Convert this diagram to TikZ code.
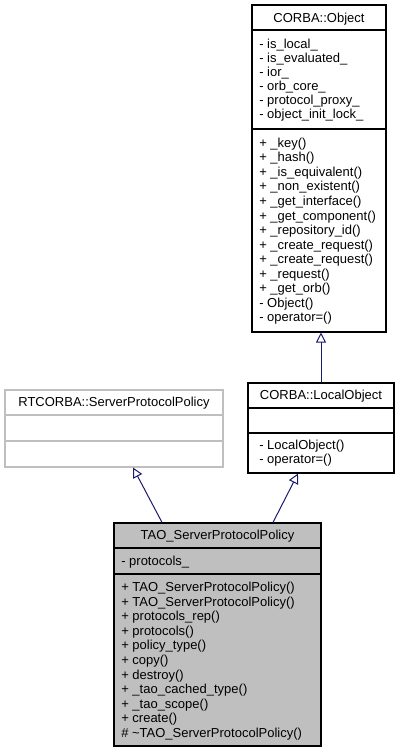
\documentclass[tikz,border=0pt]{standalone}
\usepackage{fontspec}
\setmainfont{Liberation Sans}
\usepackage{xcolor}
\usepackage{tikz}
\usetikzlibrary{arrows.meta}

\definecolor{edgeblue}{HTML}{191970}
\definecolor{boxgray}{HTML}{BFBFBF}

\tikzset{
    classbox/.style={draw, line width=0.8pt, inner sep=0pt},
    member/.style={anchor=base west, inner sep=0pt, font=\fontsize{9.75}{11}\selectfont},
    classname/.style={anchor=base, inner sep=0pt, font=\fontsize{9.75}{11}\selectfont},
    inherit/.style={draw=edgeblue, line width=0.75pt, -{Triangle[open, length=7.5pt, width=7.5pt]}},
}

\begin{document}
\begin{tikzpicture}[x=0.75pt, y=-0.75pt]
        \useasboundingbox (0,0) rectangle (400,752);
        % class boxes
        \node[classbox, minimum width=100.5pt, minimum height=245.25pt] (obj) at (319,168.5) {};
        \node[classbox, minimum width=109.5pt, minimum height=67.5pt] (local) at (321,428) {};
        \node[classbox, draw=boxgray, minimum width=163.5pt, minimum height=57.75pt] (rt) at (114,428.5) {};
        \node[classbox, fill=boxgray, minimum width=155.25pt, minimum height=167.25pt] (tao) at (217.5,634.5) {};
        % compartments
        \foreach \y in {30,129}{
            \path[draw, line width=0.8pt] (obj.west |- 0,\y) -- (obj.east |- 0,\y);
        }
        \foreach \y in {408,433}{
            \path[draw, line width=0.8pt] (local.west |- 0,\y) -- (local.east |- 0,\y);
        }
        \foreach \y in {415,441}{
            \path[draw, line width=0.8pt, boxgray] (rt.west |- 0,\y) -- (rt.east |- 0,\y);
        }
        \foreach \y in {548,574}{
            \path[draw, line width=0.8pt] (tao.west |- 0,\y) -- (tao.east |- 0,\y);
        }
        % CORBA::Object
        \node[classname] (objname) at (319,22.5) {CORBA::Object};
        \foreach \i/\w in {0/{- is\_local\_}, 1/{- is\_evaluated\_}, 2/{- ior\_}, 3/{- orb\_core\_}, 4/{- protocol\_proxy\_}, 5/{- object\_init\_lock\_}}{
            \node[member] (oa\i) at (259,48.5+14*\i) {\w};
        }
        \foreach \i/\w in {0/{+ \_key()}, 1/{+ \_hash()}, 2/{+ \_is\_equivalent()}, 3/{+ \_non\_existent()}, 4/{+ \_get\_interface()}, 5/{+ \_get\_component()}, 6/{+ \_repository\_id()}, 7/{+ \_create\_request()}, 8/{+ \_create\_request()}, 9/{+ \_request()}, 10/{+ \_get\_orb()}, 11/{- Object()}, 12/{- operator=()}}{
            \node[member] (om\i) at (259,147.5+14.5*\i) {\w};
        }
        % CORBA::LocalObject
        \node[classname] (localname) at (321,399.5) {CORBA::LocalObject};
        \foreach \i/\w in {0/{- LocalObject()}, 1/{- operator=()}}{
            \node[member] (lm\i) at (259,449.5+14*\i) {\w};
        }
        % RTCORBA::ServerProtocolPolicy
        \node[classname] (rtname) at (114,406.5) {RTCORBA::ServerProtocolPolicy};
        % TAO_ServerProtocolPolicy
        \node[classname] (taoname) at (217.5,539.5) {TAO\_ServerProtocolPolicy};
        \node[member] (ta0) at (121,565.5) {- protocols\_};
        \foreach \i/\w in {0/{+ TAO\_ServerProtocolPolicy()}, 1/{+ TAO\_ServerProtocolPolicy()}, 2/{+ protocols\_rep()}, 3/{+ protocols()}, 4/{+ policy\_type()}, 5/{+ copy()}, 6/{+ destroy()}, 7/{+ \_tao\_cached\_type()}, 8/{+ \_tao\_scope()}, 9/{+ create()}, 10/{\# \textasciitilde TAO\_ServerProtocolPolicy()}}{
            \node[member] (tm\i) at (121,591.5+14.6*\i) {\w};
        }
        % inheritance
        \path[inherit] ([xshift=-41.6pt]tao.north) -- ([xshift=14.25pt]rt.south);
        \path[inherit] ([xshift=41.6pt]tao.north) -- ([xshift=-17.25pt]local.south);
        \path[inherit] (local.north) -- (local.north |- obj.south);
    \end{tikzpicture}
\end{document}
